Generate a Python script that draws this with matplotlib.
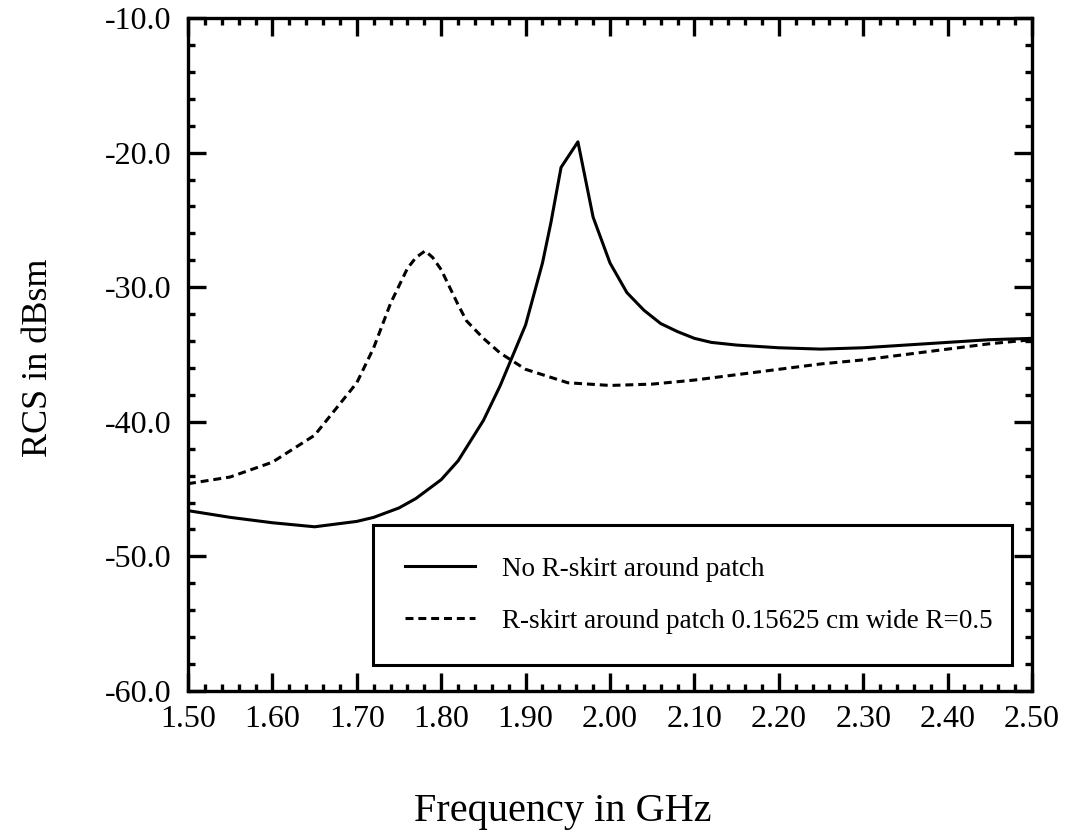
import numpy as np
import matplotlib
matplotlib.use('Agg')
import matplotlib.pyplot as plt
from matplotlib.ticker import MultipleLocator, FormatStrFormatter

plt.rcParams['font.family'] = ['Liberation Serif', 'DejaVu Serif']
plt.rcParams['axes.unicode_minus'] = False

# No R-skirt (solid)
freq_solid = [1.50, 1.55, 1.60, 1.65, 1.70, 1.72, 1.75, 1.77, 1.80, 1.82,
              1.85, 1.87, 1.88, 1.90, 1.92, 1.93, 1.942, 1.962, 1.98, 2.00,
              2.02, 2.04, 2.06, 2.08, 2.10, 2.12, 2.15, 2.20, 2.25, 2.30,
              2.35, 2.40, 2.45, 2.50]
rcs_solid = [-46.6, -47.1, -47.5, -47.8, -47.4, -47.1, -46.4, -45.7, -44.3, -42.9,
             -39.9, -37.3, -35.8, -32.8, -28.2, -25.2, -21.1, -19.2, -24.8, -28.2,
             -30.4, -31.7, -32.7, -33.3, -33.8, -34.1, -34.3, -34.5, -34.6, -34.5,
             -34.3, -34.1, -33.9, -33.8]

# R-skirt 0.15625 cm wide, R=0.5 (dashed)
freq_dash = [1.50, 1.55, 1.60, 1.65, 1.70, 1.72, 1.74, 1.76, 1.77, 1.781,
             1.79, 1.80, 1.82, 1.83, 1.85, 1.87, 1.90, 1.95, 2.00, 2.05,
             2.10, 2.15, 2.20, 2.25, 2.30, 2.35, 2.40, 2.45, 2.50]
rcs_dash = [-44.6, -44.1, -43.0, -41.0, -37.1, -34.5, -31.2, -28.6, -27.8, -27.3,
            -27.8, -28.7, -31.3, -32.5, -33.8, -34.9, -36.1, -37.1, -37.3, -37.2,
            -36.9, -36.5, -36.1, -35.7, -35.4, -35.0, -34.6, -34.2, -33.9]

labels = ['No R-skirt around patch',
          'R-skirt around patch 0.15625 cm wide R=0.5']

fig = plt.figure(figsize=(10.7, 8.32), dpi=100)
ax = fig.add_axes([188 / 1070, 1 - 691 / 832, (1032 - 188) / 1070, (691 - 18) / 832])

ax.plot(freq_solid, rcs_solid, color='black', lw=2.2, label=labels[0])
ax.plot(freq_dash, rcs_dash, color='black', lw=2.2, dashes=(2.6, 1.6), label=labels[1])

ax.set_xlim(1.5, 2.5)
ax.set_ylim(-60, -10)
ax.xaxis.set_major_locator(MultipleLocator(0.1))
ax.xaxis.set_minor_locator(MultipleLocator(0.02))
ax.yaxis.set_major_locator(MultipleLocator(10))
ax.yaxis.set_minor_locator(MultipleLocator(2))
ax.xaxis.set_major_formatter(FormatStrFormatter('%.2f'))
ax.yaxis.set_major_formatter(FormatStrFormatter('%.1f'))

ax.tick_params(which='both', direction='in', top=True, right=True, width=2.4,
               labelsize=23)
ax.tick_params(which='major', length=13)
ax.tick_params(which='minor', length=5)
ax.tick_params(axis='x', pad=10)
ax.tick_params(axis='y', pad=12)
for s in ax.spines.values():
    s.set_linewidth(2.4)

ax.set_xlabel('Frequency in GHz', fontsize=29, va='center')
ax.xaxis.set_label_coords((563 - 188) / 844, -(811 - 691) / 673)
ax.set_ylabel('RCS in dBsm', fontsize=26, va='center')
ax.yaxis.set_label_coords((39 - 188) / 844, (691 - 358) / 673)

leg = ax.legend(loc='upper left',
                bbox_to_anchor=((373 - 188) / 844, (691 - 663) / 673,
                                (1012 - 373) / 844, (663 - 525) / 673),
                mode='expand', fontsize=19.5, handlelength=2.6, handletextpad=1.0,
                labelspacing=1.0, borderpad=1.17, fancybox=False, framealpha=1,
                borderaxespad=0)
leg.get_frame().set_edgecolor('black')
leg.get_frame().set_linewidth(2.2)

fig.savefig('out.png', dpi=100)
